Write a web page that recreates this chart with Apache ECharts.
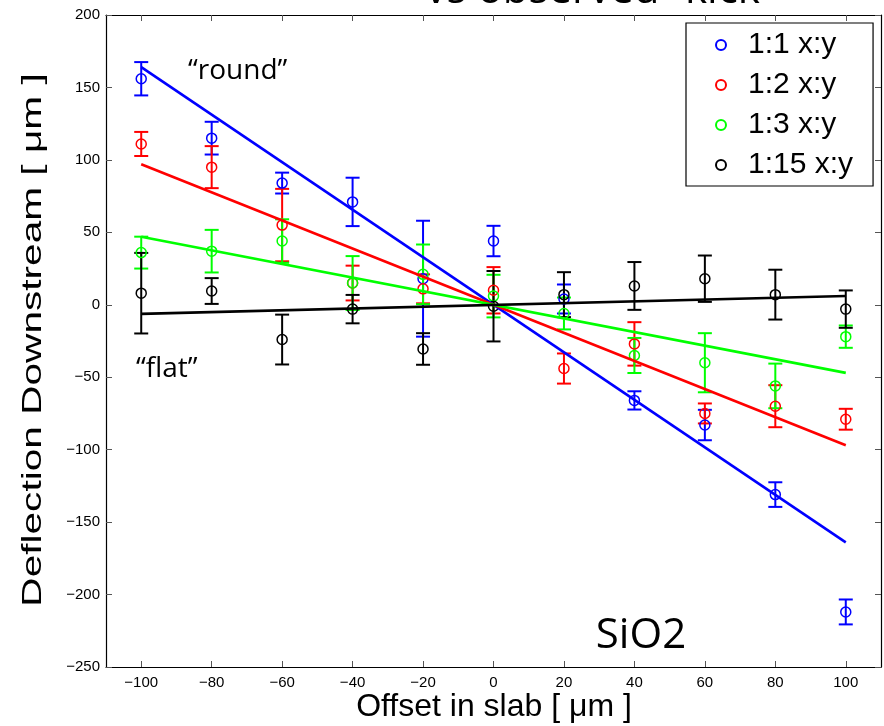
<!DOCTYPE html>
<html>
<head>
<meta charset="utf-8">
<script src="https://cdn.jsdelivr.net/npm/echarts@6/dist/echarts.min.js"></script>
<style>
html,body{margin:0;padding:0;background:#fff;}
#chart{width:884px;height:726px;}
</style>
</head>
<body>
<div id="chart"></div>
<script>
// ---- data ----
var offsets = [-100, -80, -60, -40, -20, 0, 20, 40, 60, 80, 100];
var xTicks = [-100, -80, -60, -40, -20, 0, 20, 40, 60, 80, 100];
var yTicks = [-250, -200, -150, -100, -50, 0, 50, 100, 150, 200];
var seriesNames = ['1:1 x:y', '1:2 x:y', '1:3 x:y', '1:15 x:y'];
var seriesColors = ['#0000ff', '#ff0000', '#00ff00', '#000000'];

var blueVals  = [156, 115, 84, 71, 18, 44, 4, -66, -83, -131, -212];
var blueErr   = [11.5, 11.3, 7.2, 16.7, 40, 10.5, 10, 6.3, 10.5, 8.5, 8.6];
var redVals   = [111, 95, 55, 15, 11, 10, -44, -27, -75, -70, -79];
var redErr    = [8.3, 14.5, 25, 12, 10, 16, 10.4, 15, 6.9, 14.5, 7.2];
var greenVals = [36, 37, 44, 15, 21, 6, -6, -35, -40, -56, -22];
var greenErr  = [11, 14.7, 15, 18.6, 20.6, 14.7, 11, 12.1, 20.4, 15.4, 7.7];
var blackVals = [8, 9.5, -24, -3, -30.5, -1, 7, 13, 18, 7, -3];
var blackErr  = [27.8, 8.9, 17.2, 9.8, 10.9, 24.3, 15.5, 16.5, 16, 17.2, 12.9];

var fitX      = [-100, 100];
var blueFit   = [164, -164];
var redFit    = [97, -97];
var greenFit  = [47, -47];
var blackFit  = [-6.3, 6.1];

var allVals = [blueVals, redVals, greenVals, blackVals];
var allErr = [blueErr, redErr, greenErr, blackErr];
var allFit = [blueFit, redFit, greenFit, blackFit];

// ---- chart ----
var chart = echarts.init(document.getElementById('chart'), null, {renderer: 'canvas'});
var FONT = 'Liberation Sans, Arial, sans-serif';

function errRender(color) {
  return function (params, api) {
    var x = api.value(0), lo = api.value(1), hi = api.value(2);
    var pLo = api.coord([x, lo]);
    var pHi = api.coord([x, hi]);
    var hw = 7;
    var st = {stroke: color, lineWidth: 2, fill: null};
    return {
      type: 'group',
      children: [
        {type: 'line', shape: {x1: pLo[0], y1: pLo[1], x2: pHi[0], y2: pHi[1]}, style: st},
        {type: 'line', shape: {x1: pLo[0] - hw, y1: pLo[1], x2: pLo[0] + hw, y2: pLo[1]}, style: st},
        {type: 'line', shape: {x1: pHi[0] - hw, y1: pHi[1], x2: pHi[0] + hw, y2: pHi[1]}, style: st}
      ]
    };
  };
}

var series = [];
for (var s = 0; s < 4; s++) {
  var errData = offsets.map(function (x, i) {
    return [x, allVals[s][i] - allErr[s][i], allVals[s][i] + allErr[s][i]];
  });
  series.push({
    name: 'err' + s, type: 'custom', renderItem: errRender(seriesColors[s]),
    data: errData, z: 2, silent: true, clip: false
  });
  series.push({
    name: seriesNames[s], type: 'scatter', symbol: 'circle', symbolSize: 10,
    itemStyle: {color: 'rgba(255,255,255,0)', borderColor: seriesColors[s], borderWidth: 1.5, opacity: 1},
    data: offsets.map(function (x, i) { return [x, allVals[s][i]]; }),
    z: 3
  });
}
for (var s2 = 0; s2 < 4; s2++) {
  series.push({
    name: 'fit' + s2, type: 'line', showSymbol: false, symbol: 'none',
    lineStyle: {color: seriesColors[s2], width: 2.6},
    data: fitX.map(function (x, i) { return [x, allFit[s2][i]]; }),
    z: 4, silent: true
  });
}

var axisBase = {
  type: 'value',
  axisLine: {show: true, onZero: false, lineStyle: {color: '#000', width: 1.2}},
  splitLine: {show: false}
};

var option = {
  backgroundColor: '#ffffff',
  animation: false,
  grid: {left: 106, top: 15, width: 775, height: 652, containLabel: false},
  xAxis: [
    Object.assign({}, axisBase, {
      min: -110, max: 110, position: 'bottom',
      axisTick: {show: true, inside: true, length: 6, customValues: xTicks, lineStyle: {color: '#555'}},
      axisLabel: {show: true, customValues: xTicks, margin: 8, fontSize: 15, fontFamily: FONT, color: '#000',
        formatter: function (v) { return v < 0 ? '\u2212' + Math.abs(v) : String(v); }}
    }),
    Object.assign({}, axisBase, {
      min: -110, max: 110, position: 'top',
      axisTick: {show: true, inside: true, length: 6, customValues: xTicks, lineStyle: {color: '#555'}},
      axisLabel: {show: false}
    })
  ],
  yAxis: [
    Object.assign({}, axisBase, {
      min: -250, max: 200, interval: 50, position: 'left',
      axisTick: {show: true, inside: true, length: 6, lineStyle: {color: '#555'}},
      axisLabel: {show: true, margin: 6, fontSize: 15, fontFamily: FONT, color: '#000',
        formatter: function (v) { return v < 0 ? '\u2212' + Math.abs(v) : String(v); }}
    }),
    Object.assign({}, axisBase, {
      min: -250, max: 200, interval: 50, position: 'right',
      axisTick: {show: true, inside: true, length: 6, lineStyle: {color: '#555'}},
      axisLabel: {show: false}
    })
  ],
  legend: {
    orient: 'vertical', left: 686, top: 23,
    backgroundColor: '#ffffff', borderColor: '#000', borderWidth: 1.2,
    padding: [7, 20, 6, 29], itemGap: 10, itemWidth: 10, itemHeight: 10,
    textStyle: {fontSize: 30, fontFamily: FONT, color: '#000', padding: [0, 0, 0, 17], lineHeight: 30},
    data: seriesNames, selectedMode: false
  },
  graphic: [
    {type: 'text', x: 600, y: 12, z: 10,
      style: {text: 'vs observed \u201ckick\u201d', font: '42px "Open Sans"', fill: '#000', textAlign: 'center', textVerticalAlign: 'bottom'}},
    {type: 'text', x: 188, y: 71, z: 10,
      style: {text: '\u201cround\u201d', font: '28px "Open Sans"', fill: '#000', textAlign: 'left', textVerticalAlign: 'middle'}},
    {type: 'text', x: 136, y: 369, z: 10,
      style: {text: '\u201cflat\u201d', font: '28px "Open Sans"', fill: '#000', textAlign: 'left', textVerticalAlign: 'middle'}},
    {type: 'text', x: 641, y: 636, z: 10,
      style: {text: 'SiO2', font: '42px "Open Sans"', fill: '#000', textAlign: 'center', textVerticalAlign: 'middle'}},
    {type: 'text', x: 494, y: 707, z: 10,
      style: {text: 'Offset in slab [ \u03bcm ]', font: '32px "Liberation Sans"', fill: '#000', textAlign: 'center', textVerticalAlign: 'middle'}},
    {type: 'text', x: 33, y: 340, z: 10, rotation: Math.PI / 2, scaleX: 1.45,
      style: {text: 'Deflection Downstream [ \u03bcm ]', font: '28px "Liberation Sans"', fill: '#000', textAlign: 'center', textVerticalAlign: 'middle'}}
  ],
  series: series
};
chart.setOption(option);
</script>
</body>
</html>
